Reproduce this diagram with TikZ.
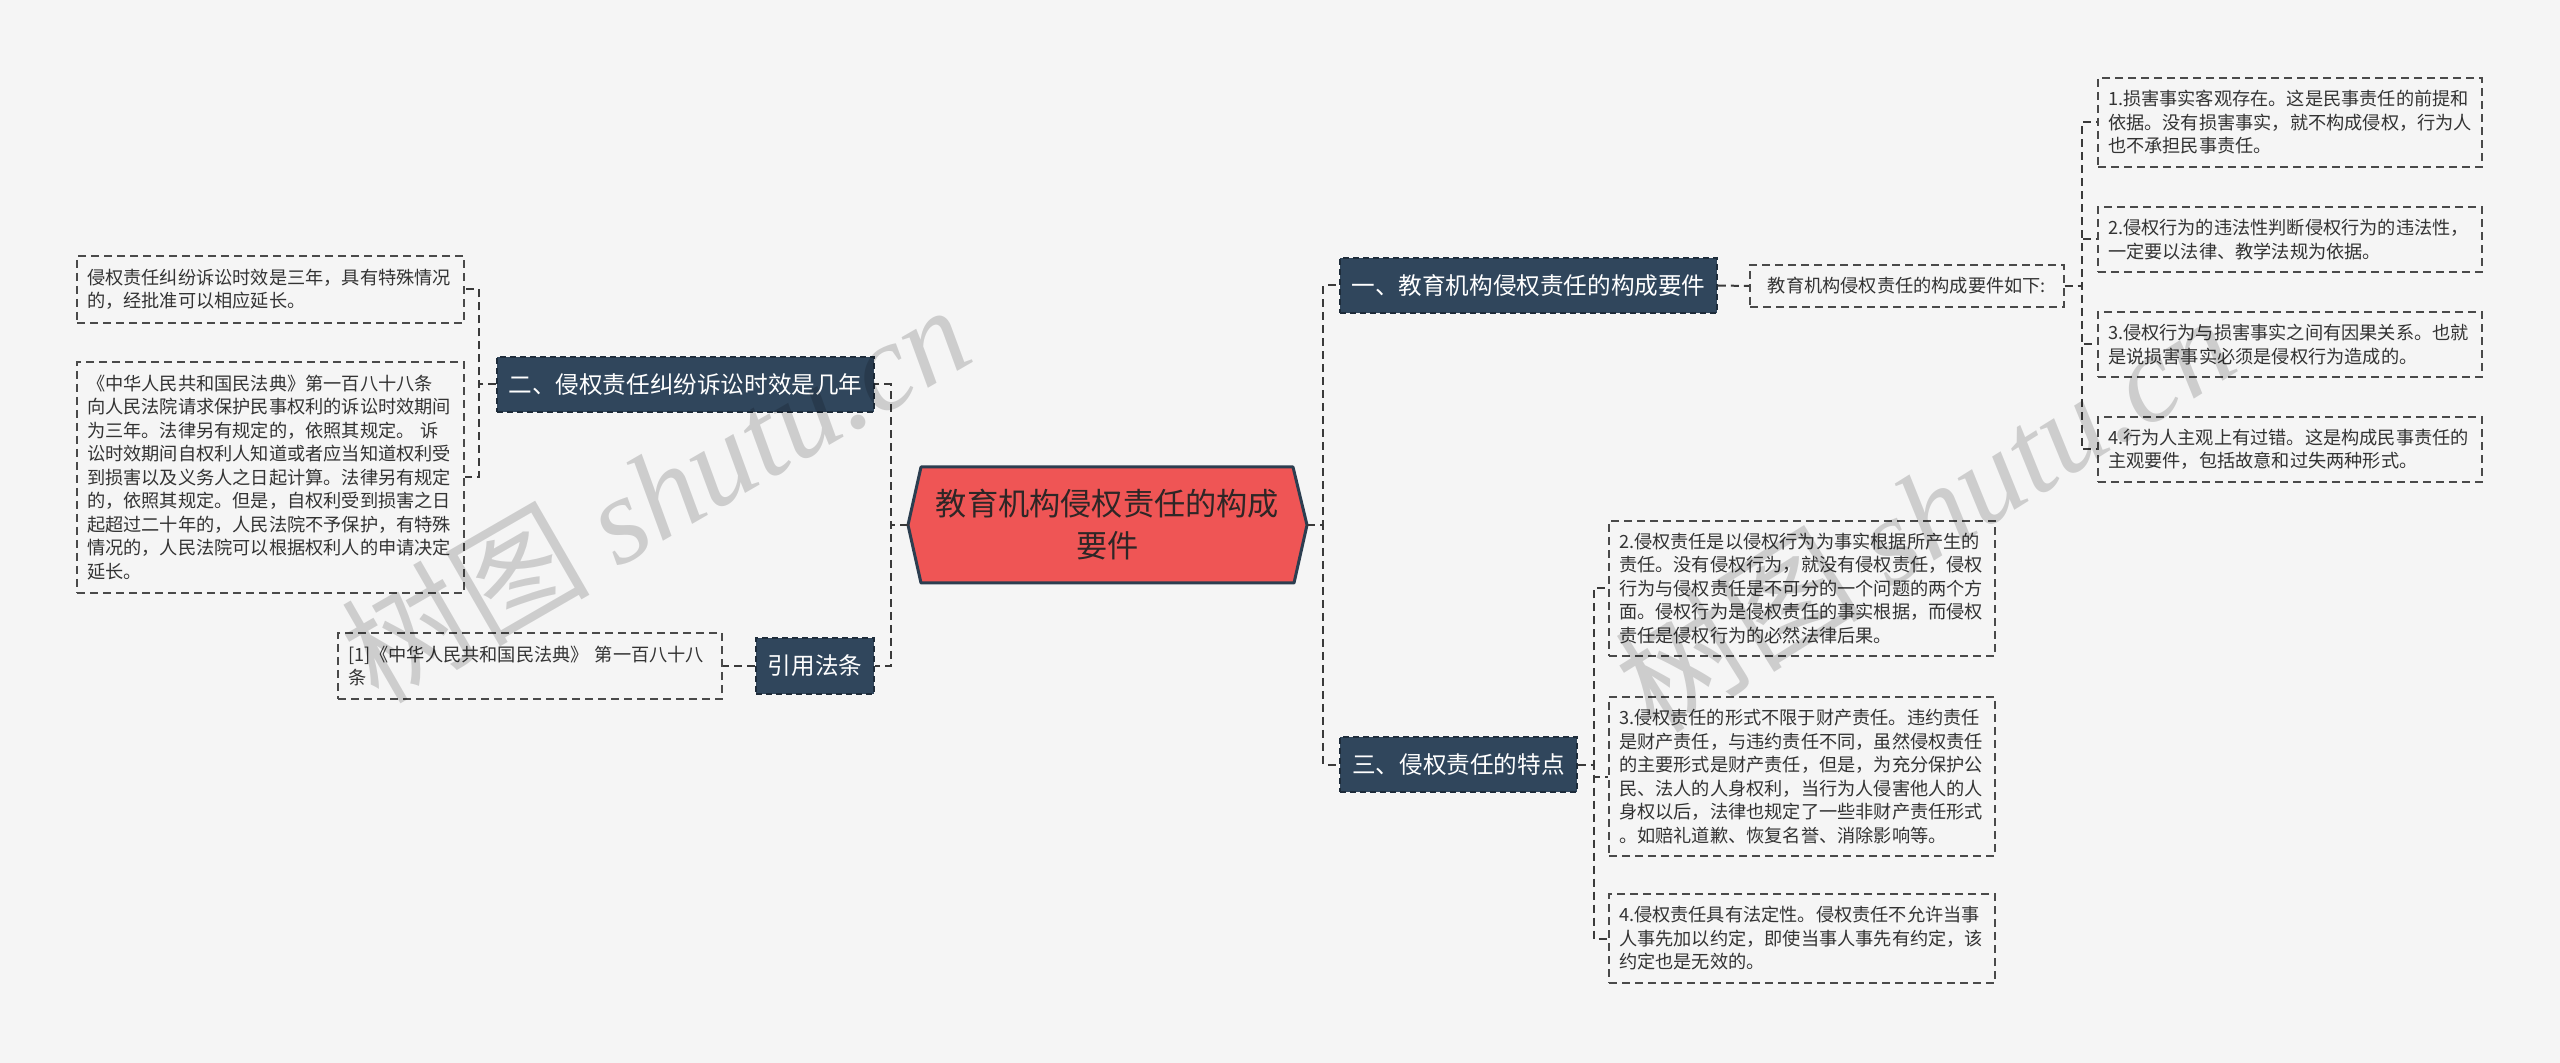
\documentclass[tikz,border=0pt]{standalone}
\usepackage{fontspec}
\setmainfont{Noto Sans CJK SC}
\newfontfamily\wmfont{Liberation Serif}
\definecolor{bgc}{HTML}{F5F5F5}
\definecolor{rootc}{HTML}{EF5555}
\definecolor{rootbd}{HTML}{2C3E50}
\definecolor{roottxt}{HTML}{2E2626}
\definecolor{brc}{HTML}{30465C}
\definecolor{brbd}{HTML}{1E2C3A}
\definecolor{leafbd}{HTML}{4A4A4A}
\definecolor{txtc}{HTML}{333333}
\definecolor{connc}{HTML}{3A3A3A}
\begin{document}
\begin{tikzpicture}[x=0.5pt,y=-0.5pt,
  conn/.style={draw=connc, line width=1pt, dash pattern=on 4pt off 2.5pt},
  leaf/.style={draw=leafbd, line width=0.8pt, dash pattern=on 4pt off 2.5pt,
    text=txtc, font=\fontsize{9.1}{11.75}\selectfont, align=left,
    inner xsep=5pt, inner ysep=0pt, anchor=center},
  sub/.style={draw=leafbd, line width=0.8pt, dash pattern=on 4pt off 2.5pt,
    text=txtc, font=\fontsize{9.1}{11.75}\selectfont, align=center,
    inner sep=0pt, anchor=center},
  branch/.style={fill=brc, draw=brbd, line width=0.8pt, dash pattern=on 3pt off 2pt,
    text=white, font=\fontsize{11.8}{14}\selectfont, inner sep=0pt, anchor=center,
    minimum height=27.5pt},
  wm/.style={text=black, text opacity=0.16, font=\fontsize{62}{62}\selectfont, inner sep=0pt}
]
\fill[bgc] (0,0) rectangle (2560,1063);
\useasboundingbox (0,0) rectangle (2560,1063);

% root
\path[fill=rootc, draw=rootbd, line width=1.5pt, line join=round]
  (908,525) -- (921,467) -- (1293,467) -- (1307,525) -- (1294,583) -- (921,583) -- cycle;
\node[inner sep=0pt, minimum width=199.5pt, minimum height=58pt, text=roottxt,
  align=center, font=\fontsize{15.6}{21}\selectfont] (root) at (1107.5,525)
  {教育机构侵权责任的构成\\要件};

% branches
\node[branch, minimum width=188.5pt] (b1) at (1528.5,285.5) {一、教育机构侵权责任的构成要件};
\node[branch, minimum width=188.5pt] (b2) at (685.5,384.5) {二、侵权责任纠纷诉讼时效是几年};
\node[branch, minimum width=118.5pt] (b3) at (1458.5,764.5) {三、侵权责任的特点};
\node[branch, minimum width=59pt, minimum height=28pt] (bc) at (815,666) {引用法条};

% sub node
\node[sub, minimum width=157pt, minimum height=21pt] (s1) at (1907,286) {教育机构侵权责任的构成要件如下:};

% right leaves
\node[leaf, text width=182pt, minimum height=44.5pt] (r1) at (2290,122.5)
  {1.损害事实客观存在。这是民事责任的前提和\\依据。没有损害事实，就不构成侵权，行为人\\也不承担民事责任。};
\node[leaf, text width=182pt, minimum height=32.5pt] (r2) at (2290,239.5)
  {2.侵权行为的违法性判断侵权行为的违法性，\\一定要以法律、教学法规为依据。};
\node[leaf, text width=182pt, minimum height=32.5pt] (r3) at (2290,344.5)
  {3.侵权行为与损害事实之间有因果关系。也就\\是说损害事实必须是侵权行为造成的。};
\node[leaf, text width=182pt, minimum height=32.5pt] (r4) at (2290,449.5)
  {4.行为人主观上有过错。这是构成民事责任的\\主观要件，包括故意和过失两种形式。};

% middle leaves
\node[leaf, text width=183pt, minimum height=67.5pt] (m2) at (1802,588.5)
  {2.侵权责任是以侵权行为为事实根据所产生的\\责任。没有侵权行为，就没有侵权责任，侵权\\行为与侵权责任是不可分的一个问题的两个方\\面。侵权行为是侵权责任的事实根据，而侵权\\责任是侵权行为的必然法律后果。};
\node[leaf, text width=183pt, minimum height=79.5pt] (m3) at (1802,776.5)
  {3.侵权责任的形式不限于财产责任。违约责任\\是财产责任，与违约责任不同，虽然侵权责任\\的主要形式是财产责任，但是，为充分保护公\\民、法人的人身权利，当行为人侵害他人的人\\身权以后，法律也规定了一些非财产责任形式\\。如赔礼道歉、恢复名誉、消除影响等。};
\node[leaf, text width=183pt, minimum height=44.5pt] (m4) at (1802,938.5)
  {4.侵权责任具有法定性。侵权责任不允许当事\\人事先加以约定，即使当事人事先有约定，该\\约定也是无效的。};

% left leaves
\node[leaf, text width=183.5pt, minimum height=33.5pt] (l1) at (270.5,289.5)
  {侵权责任纠纷诉讼时效是三年，具有特殊情况\\的，经批准可以相应延长。};
\node[leaf, text width=183.5pt, minimum height=115.5pt] (l2) at (270.5,477.5)
  {《中华人民共和国民法典》第一百八十八条\\向人民法院请求保护民事权利的诉讼时效期间\\为三年。法律另有规定的，依照其规定。 诉\\讼时效期间自权利人知道或者应当知道权利受\\到损害以及义务人之日起计算。法律另有规定\\的，依照其规定。但是，自权利受到损害之日\\起超过二十年的，人民法院不予保护，有特殊\\情况的，人民法院可以根据权利人的申请决定\\延长。};
\node[leaf, text width=182pt, minimum height=33pt] (c1) at (530,666)
  {[1]《中华人民共和国民法典》 第一百八十八\\条};

% connectors
\draw[conn] (root.west) -- ++(-17,0) |- (b2.east);
\draw[conn] (root.west) -- ++(-17,0) |- (bc.east);
\draw[conn] (root.east) -- ++(16,0) |- (b1.west);
\draw[conn] (root.east) -- ++(16,0) |- (b3.west);
\draw[conn] (b1.east) -- (s1.west);
\foreach \t in {r1,r2,r3,r4} \draw[conn] (s1.east) -- ++(17,0) |- (\t.west);
\foreach \t in {m2,m3,m4} \draw[conn] (b3.east) -- ++(16,0) |- (\t.west);
\foreach \t in {l1,l2} \draw[conn] (b2.west) -- ++(-17,0) |- (\t.east);
\draw[conn] (bc.west) -- (c1.east);

% watermarks
\node[wm, rotate=30] (wm1) at (655,492) {树图 {\wmfont\itshape shutu.cn}};
\node[wm, rotate=32] (wm2) at (1924,512) {树图 {\wmfont\itshape shutu.cn}};
\end{tikzpicture}
\end{document}
